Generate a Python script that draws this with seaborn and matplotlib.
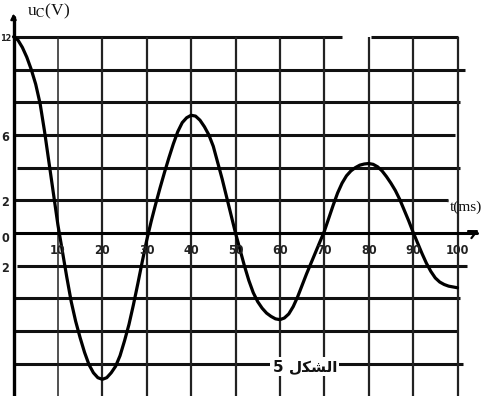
import matplotlib
matplotlib.use("Agg")
import matplotlib.pyplot as plt
import seaborn as sns
import pandas as pd

# -------------------------------
# Data (1 ms steps)
# -------------------------------
t_ms = list(range(0, 101))
u_c = [12.0, 11.8, 11.35, 10.75, 10.0, 9.1, 7.9, 6.2, 4.3, 2.4,
       0.5, -1.1, -2.7, -4.2, -5.4, -6.4, -7.3, -8.05, -8.55, -8.85,
       -8.95, -8.85, -8.55, -8.15, -7.5, -6.6, -5.6, -4.4, -3.1, -1.75,
       -0.45, 0.7, 1.75, 2.75, 3.7, 4.6, 5.45, 6.2, 6.75, 7.05,
       7.2, 7.15, 6.9, 6.5, 6.0, 5.3, 4.3, 3.3, 2.2, 1.1,
       0.0, -1.0, -2.0, -2.9, -3.65, -4.2, -4.6, -4.9, -5.1, -5.25,
       -5.3, -5.2, -4.95, -4.5, -3.9, -3.2, -2.5, -1.85, -1.2, -0.55,
       0.1, 0.9, 1.7, 2.45, 3.05, 3.5, 3.8, 4.0, 4.15, 4.22,
       4.25, 4.2, 4.05, 3.8, 3.45, 3.05, 2.6, 2.05, 1.4, 0.75,
       0.05, -0.6, -1.25, -1.85, -2.35, -2.75, -3.0, -3.15, -3.25, -3.3,
       -3.35]

x_ticks = [10, 20, 30, 40, 50, 60, 70, 80, 90, 100]
x_tick_labels = ["10", "20", "30", "40", "50", "60", "70", "80", "90", "100"]
y_ticks = [6, 2, 0, -2]
y_tick_labels = ["6", "2", "0", "2"]

# grid rows (V) and how far right each one runs (ms)
grid_rows = [12, 10, 8, 6, 4, 2, -2, -4, -6, -8]
grid_row_ends = [100.1, 101.7, 100.6, 99.4, 100.6, 97.9, 102.1, 100.6, 99.9, 101.2]

df = pd.DataFrame({"t": t_ms, "u": u_c})

# -------------------------------
# Figure: axes fill the whole image, pixel mapping
# -------------------------------
sns.set_style("white")
plt.rcParams["mathtext.fontset"] = "stix"
fig = plt.figure(figsize=(4.83, 3.96), dpi=100)
ax = fig.add_axes([0, 0, 1, 1])
px_t, x0 = 4.44, 13.5      # px per ms, px of t=0
px_v, y0 = 16.35, 233.0    # px per volt, px of u=0
ax.set_xlim(-x0 / px_t, (483 - x0) / px_t)
ax.set_ylim((y0 - 396) / px_v, y0 / px_v)
ax.axis("off")

# horizontal grid rows (thick)
for v, end in zip(grid_rows, grid_row_ends):
    start = 0.8 if v in (4, -2) else 0
    if v == 12:
        ax.plot([start, 74.0], [v, v], color="#111111", lw=2.2, solid_capstyle="butt")
        ax.plot([80.5, end], [v, v], color="#111111", lw=2.2, solid_capstyle="butt")
    else:
        ax.plot([start, end], [v, v], color="#111111", lw=2.2, solid_capstyle="butt")

# vertical grid columns
for tk in x_ticks:
    lw = 1.1 if tk == 10 else 1.6
    ax.plot([tk, tk], [12, -10.5], color="#222222", lw=lw, solid_capstyle="butt")

# axes with arrows
ax.plot([0, 0], [-10.5, 13.2], color="black", lw=2.4)
ax.annotate("", xy=(0, 13.6), xytext=(0, 12.9),
            arrowprops=dict(arrowstyle="-|>", color="black", lw=1.5, mutation_scale=8))
ax.plot([0, 104.5], [0, 0], color="black", lw=2.2)
ax.annotate("", xy=(105.4, 0.25), xytext=(103.5, 0.0),
            arrowprops=dict(arrowstyle="->", color="black", lw=1.6, mutation_scale=14))

# the curve
sns.lineplot(data=df, x="t", y="u", sort=False, estimator=None,
             color="black", lw=2.3, ax=ax)
if ax.get_legend():
    ax.get_legend().remove()

# tick labels
lab_font = dict(family="DejaVu Sans", fontstretch="condensed", fontweight="bold",
                fontsize=9, color="#222222")
for tk, lab in zip(x_ticks, x_tick_labels):
    ax.text(tk, -1.05, lab, ha="center", va="center", **lab_font)
for v, lab in zip(y_ticks, y_tick_labels):
    dy = -0.2 if v == 0 else 0
    ax.text(-1.0, v + dy - 0.15, lab, ha="right", va="center", **lab_font)
ax.text(-2.95, 11.9, "12", ha="left", va="center", family="DejaVu Sans",
        fontstretch="condensed", fontweight="bold", fontsize=6.5, color="#222222")

# axis names
ax.text(3.0, 13.55, r"u$_{\rm C}$(V)", ha="left", va="center",
        family="Liberation Serif", fontsize=12.5, color="#111111")
ax.text(97.6, 1.75, "'", ha="left", va="center", family="Liberation Serif",
        fontsize=8, color="#333333")
ax.text(98.3, 1.6, "t(ms)", ha="left", va="center",
        family="Liberation Serif", fontsize=11, color="#111111")

# figure caption (Arabic, shaped forms in visual order)
ax.text(65.6, -8.15, "5 \ufedd\ufedc\ufeb8\ufedf\ufe8d", ha="center", va="center",
        family=["DejaVu Sans"], fontweight="bold", fontsize=11, color="#111111",
        bbox=dict(facecolor="white", edgecolor="none", pad=1.5))

fig.savefig("out.png", dpi=100, facecolor="white")
